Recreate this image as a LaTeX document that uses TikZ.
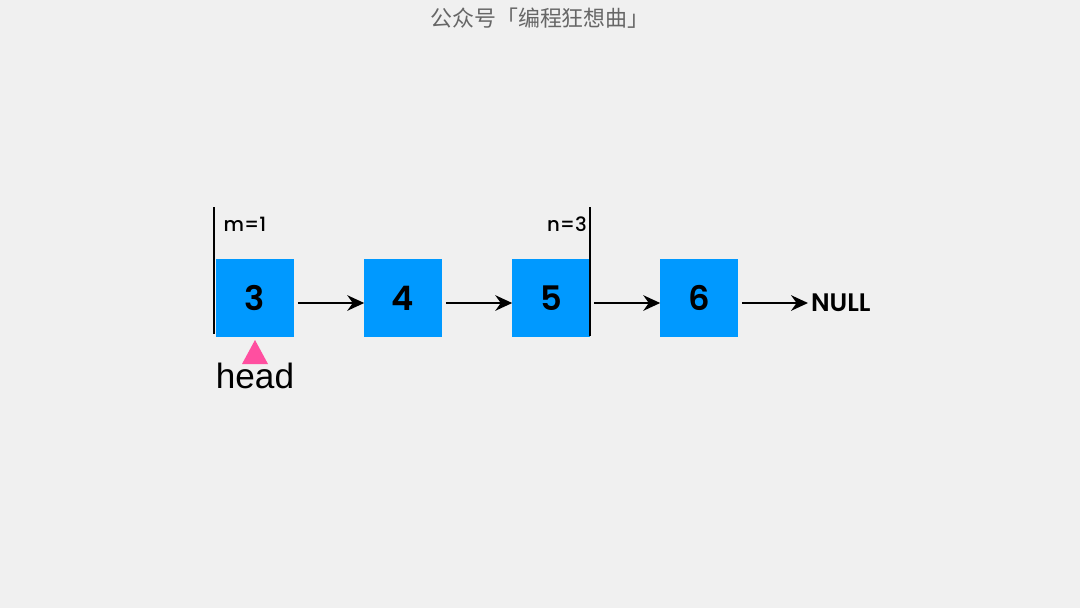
\documentclass[tikz,border=0pt]{standalone}
\usepackage{fontspec}
\setmainfont{Poppins}
\newfontfamily\medfont{Poppins}[UprightFont=* Medium,BoldFont=* SemiBold]
\newfontfamily\cjk{Noto Sans CJK SC}
\newfontfamily\headfont{Liberation Sans}
\usetikzlibrary{arrows.meta,positioning,calc}
\definecolor{bgray}{HTML}{F0F0F0}
\definecolor{nodeblue}{HTML}{0099FF}
\definecolor{headpink}{HTML}{FF4FA0}
\definecolor{titlegray}{HTML}{666666}

\begin{document}
\begin{tikzpicture}[x=0.025cm,y=-0.025cm,
  cell/.style={fill=nodeblue,minimum size=1.925cm,inner sep=0pt,font=\medfont\bfseries\fontsize{24}{26}\selectfont},
  link/.style={-{Stealth[length=12pt,width=11pt]},line width=1.8pt},
  mark label/.style={font=\medfont\fontsize{14}{16}\selectfont}]
\fill[bgray] (0,0) rectangle (1080,608);
\useasboundingbox (0,0) rectangle (1080,608);
\node[font=\cjk\fontsize{15.6}{17}\selectfont,text=titlegray] (title) at (540,18) {公众号「编程狂想曲」};
\foreach \i/\val in {1/3,2/4,3/5,4/6} {
  \node[cell] (n\i) at (255+148*\i-148,298) {\val};
}
\node[font=\medfont\fontsize{18}{20}\selectfont\bfseries,anchor=west,inner xsep=2pt] (null) at (808,303) {NULL};
\foreach \a/\b in {n1/n2,n2/n3,n3/n4} {
  \draw[link] ($(\a.east)+(4,5)$) -- ($(\b.west)+(0,5)$);
}
\draw[link] ($(n4.east)+(4,5)$) -- (null.west);
% range marks
\draw[line width=1.6pt] (214,207) -- (214,334);
\draw[line width=1.6pt] (590,207) -- (590,336);
\node[mark label] (mlab) at (245,224) {m=1};
\node[mark label] (nlab) at (567,224) {n=3};
% head pointer
\fill[headpink] (255,340) -- (268,364) -- (242,364) -- cycle;
\node[font=\headfont\fontsize{25}{27}\selectfont] (head) at (255,376) {head};
\end{tikzpicture}
\end{document}
